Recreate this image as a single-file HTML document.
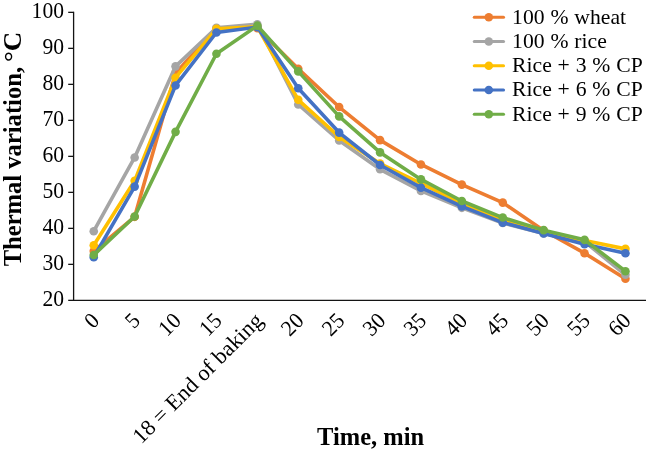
<!DOCTYPE html>
<html><head><meta charset="utf-8"><title>Chart</title>
<style>
html,body{margin:0;padding:0;background:#fff;}
body{width:646px;height:452px;overflow:hidden;}
svg{display:block;will-change:transform;}
text{font-family:"Liberation Serif",serif;fill:#000;}
.tk{font-size:21.6px;}
.lg{font-size:21.0px;word-spacing:0.4px;}
.tt{font-size:24.5px;font-weight:bold;}
</style></head><body>
<svg width="646" height="452" viewBox="0 0 646 452">
<rect x="0" y="0" width="646" height="452" fill="#ffffff"/>

<g stroke="#141414" stroke-width="1.3" fill="none">
<line x1="73.6" y1="11.70" x2="73.6" y2="301.00"/>
<line x1="73" y1="300.35" x2="646" y2="300.35"/>
<line x1="68.2" y1="300.35" x2="73.6" y2="300.35"/>
<line x1="68.2" y1="264.35" x2="73.6" y2="264.35"/>
<line x1="68.2" y1="228.35" x2="73.6" y2="228.35"/>
<line x1="68.2" y1="192.35" x2="73.6" y2="192.35"/>
<line x1="68.2" y1="156.35" x2="73.6" y2="156.35"/>
<line x1="68.2" y1="120.35" x2="73.6" y2="120.35"/>
<line x1="68.2" y1="84.35" x2="73.6" y2="84.35"/>
<line x1="68.2" y1="48.35" x2="73.6" y2="48.35"/>
<line x1="68.2" y1="12.35" x2="73.6" y2="12.35"/>
</g>
<text class="tk" text-anchor="end" transform="translate(64,305.85) scale(1,1.08)">20</text>
<text class="tk" text-anchor="end" transform="translate(64,269.85) scale(1,1.08)">30</text>
<text class="tk" text-anchor="end" transform="translate(64,233.85) scale(1,1.08)">40</text>
<text class="tk" text-anchor="end" transform="translate(64,197.85) scale(1,1.08)">50</text>
<text class="tk" text-anchor="end" transform="translate(64,161.85) scale(1,1.08)">60</text>
<text class="tk" text-anchor="end" transform="translate(64,125.85) scale(1,1.08)">70</text>
<text class="tk" text-anchor="end" transform="translate(64,89.85) scale(1,1.08)">80</text>
<text class="tk" text-anchor="end" transform="translate(64,53.85) scale(1,1.08)">90</text>
<text class="tk" text-anchor="end" transform="translate(64,17.85) scale(1,1.08)">100</text>
<polyline points="93.75,251.03 134.65,216.83 175.55,73.19 216.45,28.19 257.35,28.19 298.25,68.87 339.15,107.03 380.05,140.15 420.95,164.45 461.85,184.61 502.75,202.61 543.65,230.51 584.55,253.19 625.45,278.75" fill="none" stroke="#ED7D31" stroke-width="3.6" stroke-linejoin="round" stroke-linecap="round"/>
<g fill="#ED7D31"><circle cx="93.75" cy="251.03" r="4.3"/><circle cx="134.65" cy="216.83" r="4.3"/><circle cx="175.55" cy="73.19" r="4.3"/><circle cx="216.45" cy="28.19" r="4.3"/><circle cx="257.35" cy="28.19" r="4.3"/><circle cx="298.25" cy="68.87" r="4.3"/><circle cx="339.15" cy="107.03" r="4.3"/><circle cx="380.05" cy="140.15" r="4.3"/><circle cx="420.95" cy="164.45" r="4.3"/><circle cx="461.85" cy="184.61" r="4.3"/><circle cx="502.75" cy="202.61" r="4.3"/><circle cx="543.65" cy="230.51" r="4.3"/><circle cx="584.55" cy="253.19" r="4.3"/><circle cx="625.45" cy="278.75" r="4.3"/></g>
<polyline points="93.75,231.23 134.65,157.43 175.55,66.35 216.45,27.83 257.35,24.23 298.25,104.51 339.15,140.51 380.05,169.31 420.95,190.91 461.85,207.83 502.75,222.95 543.65,233.39 584.55,241.67 625.45,274.79" fill="none" stroke="#A5A5A5" stroke-width="3.6" stroke-linejoin="round" stroke-linecap="round"/>
<g fill="#A5A5A5"><circle cx="93.75" cy="231.23" r="4.3"/><circle cx="134.65" cy="157.43" r="4.3"/><circle cx="175.55" cy="66.35" r="4.3"/><circle cx="216.45" cy="27.83" r="4.3"/><circle cx="257.35" cy="24.23" r="4.3"/><circle cx="298.25" cy="104.51" r="4.3"/><circle cx="339.15" cy="140.51" r="4.3"/><circle cx="380.05" cy="169.31" r="4.3"/><circle cx="420.95" cy="190.91" r="4.3"/><circle cx="461.85" cy="207.83" r="4.3"/><circle cx="502.75" cy="222.95" r="4.3"/><circle cx="543.65" cy="233.39" r="4.3"/><circle cx="584.55" cy="241.67" r="4.3"/><circle cx="625.45" cy="274.79" r="4.3"/></g>
<polyline points="93.75,245.27 134.65,180.83 175.55,77.69 216.45,28.91 257.35,26.75 298.25,99.83 339.15,136.91 380.05,163.55 420.95,183.35 461.85,203.51 502.75,219.71 543.65,231.95 584.55,240.59 625.45,248.87" fill="none" stroke="#FFC000" stroke-width="3.6" stroke-linejoin="round" stroke-linecap="round"/>
<g fill="#FFC000"><circle cx="93.75" cy="245.27" r="4.3"/><circle cx="134.65" cy="180.83" r="4.3"/><circle cx="175.55" cy="77.69" r="4.3"/><circle cx="216.45" cy="28.91" r="4.3"/><circle cx="257.35" cy="26.75" r="4.3"/><circle cx="298.25" cy="99.83" r="4.3"/><circle cx="339.15" cy="136.91" r="4.3"/><circle cx="380.05" cy="163.55" r="4.3"/><circle cx="420.95" cy="183.35" r="4.3"/><circle cx="461.85" cy="203.51" r="4.3"/><circle cx="502.75" cy="219.71" r="4.3"/><circle cx="543.65" cy="231.95" r="4.3"/><circle cx="584.55" cy="240.59" r="4.3"/><circle cx="625.45" cy="248.87" r="4.3"/></g>
<polyline points="93.75,257.15 134.65,186.59 175.55,85.43 216.45,32.51 257.35,27.11 298.25,88.31 339.15,132.59 380.05,164.99 420.95,187.67 461.85,206.39 502.75,222.59 543.65,233.39 584.55,244.19 625.45,253.19" fill="none" stroke="#4472C4" stroke-width="3.6" stroke-linejoin="round" stroke-linecap="round"/>
<g fill="#4472C4"><circle cx="93.75" cy="257.15" r="4.3"/><circle cx="134.65" cy="186.59" r="4.3"/><circle cx="175.55" cy="85.43" r="4.3"/><circle cx="216.45" cy="32.51" r="4.3"/><circle cx="257.35" cy="27.11" r="4.3"/><circle cx="298.25" cy="88.31" r="4.3"/><circle cx="339.15" cy="132.59" r="4.3"/><circle cx="380.05" cy="164.99" r="4.3"/><circle cx="420.95" cy="187.67" r="4.3"/><circle cx="461.85" cy="206.39" r="4.3"/><circle cx="502.75" cy="222.59" r="4.3"/><circle cx="543.65" cy="233.39" r="4.3"/><circle cx="584.55" cy="244.19" r="4.3"/><circle cx="625.45" cy="253.19" r="4.3"/></g>
<polyline points="93.75,254.99 134.65,216.47 175.55,131.87 216.45,53.75 257.35,25.67 298.25,71.39 339.15,116.39 380.05,152.39 420.95,179.39 461.85,200.99 502.75,217.55 543.65,230.15 584.55,239.87 625.45,271.19" fill="none" stroke="#70AD47" stroke-width="3.6" stroke-linejoin="round" stroke-linecap="round"/>
<g fill="#70AD47"><circle cx="93.75" cy="254.99" r="4.3"/><circle cx="134.65" cy="216.47" r="4.3"/><circle cx="175.55" cy="131.87" r="4.3"/><circle cx="216.45" cy="53.75" r="4.3"/><circle cx="257.35" cy="25.67" r="4.3"/><circle cx="298.25" cy="71.39" r="4.3"/><circle cx="339.15" cy="116.39" r="4.3"/><circle cx="380.05" cy="152.39" r="4.3"/><circle cx="420.95" cy="179.39" r="4.3"/><circle cx="461.85" cy="200.99" r="4.3"/><circle cx="502.75" cy="217.55" r="4.3"/><circle cx="543.65" cy="230.15" r="4.3"/><circle cx="584.55" cy="239.87" r="4.3"/><circle cx="625.45" cy="271.19" r="4.3"/></g>
<text class="tk" text-anchor="end" transform="translate(100.55,321.9) rotate(-45) scale(1,1.03)">0</text>
<text class="tk" text-anchor="end" transform="translate(141.45,321.9) rotate(-45) scale(1,1.03)">5</text>
<text class="tk" text-anchor="end" transform="translate(182.35,321.9) rotate(-45) scale(1,1.03)">10</text>
<text class="tk" text-anchor="end" transform="translate(223.25,321.9) rotate(-45) scale(1,1.03)">15</text>
<text class="tk" text-anchor="end" transform="translate(264.15,321.9) rotate(-45) scale(1.042,1.03)">18 = End of baking</text>
<text class="tk" text-anchor="end" transform="translate(305.05,321.9) rotate(-45) scale(1,1.03)">20</text>
<text class="tk" text-anchor="end" transform="translate(345.95,321.9) rotate(-45) scale(1,1.03)">25</text>
<text class="tk" text-anchor="end" transform="translate(386.85,321.9) rotate(-45) scale(1,1.03)">30</text>
<text class="tk" text-anchor="end" transform="translate(427.75,321.9) rotate(-45) scale(1,1.03)">35</text>
<text class="tk" text-anchor="end" transform="translate(468.65,321.9) rotate(-45) scale(1,1.03)">40</text>
<text class="tk" text-anchor="end" transform="translate(509.55,321.9) rotate(-45) scale(1,1.03)">45</text>
<text class="tk" text-anchor="end" transform="translate(550.45,321.9) rotate(-45) scale(1,1.03)">50</text>
<text class="tk" text-anchor="end" transform="translate(591.35,321.9) rotate(-45) scale(1,1.03)">55</text>
<text class="tk" text-anchor="end" transform="translate(632.25,321.9) rotate(-45) scale(1,1.03)">60</text>
<line x1="474.3" y1="17.30" x2="503.5" y2="17.30" stroke="#ED7D31" stroke-width="3.1" stroke-linecap="round"/>
<circle cx="488.8" cy="17.30" r="4.3" fill="#ED7D31"/>
<text class="lg" transform="translate(512.1,23.50) scale(1.032,1)">100 % wheat</text>
<line x1="474.3" y1="41.55" x2="503.5" y2="41.55" stroke="#A5A5A5" stroke-width="3.1" stroke-linecap="round"/>
<circle cx="488.8" cy="41.55" r="4.3" fill="#A5A5A5"/>
<text class="lg" transform="translate(512.1,47.75) scale(1.032,1)">100 % rice</text>
<line x1="474.3" y1="65.80" x2="503.5" y2="65.80" stroke="#FFC000" stroke-width="3.1" stroke-linecap="round"/>
<circle cx="488.8" cy="65.80" r="4.3" fill="#FFC000"/>
<text class="lg" transform="translate(512.1,72.00) scale(1.032,1)">Rice + 3 % CP</text>
<line x1="474.3" y1="90.05" x2="503.5" y2="90.05" stroke="#4472C4" stroke-width="3.1" stroke-linecap="round"/>
<circle cx="488.8" cy="90.05" r="4.3" fill="#4472C4"/>
<text class="lg" transform="translate(512.1,96.25) scale(1.032,1)">Rice + 6 % CP</text>
<line x1="474.3" y1="114.30" x2="503.5" y2="114.30" stroke="#70AD47" stroke-width="3.1" stroke-linecap="round"/>
<circle cx="488.8" cy="114.30" r="4.3" fill="#70AD47"/>
<text class="lg" transform="translate(512.1,120.50) scale(1.032,1)">Rice + 9 % CP</text>
<text class="tt" text-anchor="middle" transform="translate(370.6,444.8) scale(1,1.02)">Time, min</text>
<text class="tt" transform="translate(21.0,266.35) rotate(-90) scale(1.004,1.02)">Thermal variation,</text>
<text class="tt" transform="translate(21.0,62.0) rotate(-90) scale(1.10,1.0)">°C</text>
</svg></body></html>
